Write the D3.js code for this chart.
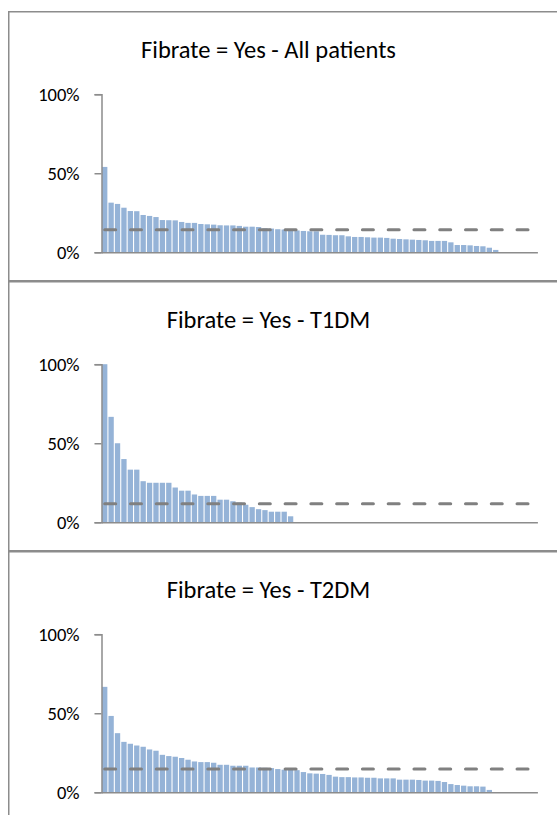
<!DOCTYPE html>
<html>
<head>
<meta charset="utf-8">
<script src="https://cdn.jsdelivr.net/npm/d3@7"></script>
<style>
  body { margin: 0; background: #fff; }
  text { font-family: Carlito, Calibri, Lato, sans-serif; fill: #000; }
</style>
</head>
<body>
<div id="chart"></div>
<script>
// 68 category slots on the x axis, only the first ones hold a bar
const slots = d3.range(1, 69);

const titles = ["Fibrate = Yes - All patients", "Fibrate = Yes - T1DM", "Fibrate = Yes - T2DM"];

const allPatients = [
  0.54, 0.314, 0.306, 0.282, 0.261, 0.26, 0.236, 0.23, 0.223, 0.204,
  0.203, 0.202, 0.192, 0.186, 0.186, 0.179, 0.177, 0.175, 0.171, 0.17,
  0.17, 0.167, 0.162, 0.162, 0.16, 0.152, 0.15, 0.146, 0.144, 0.14,
  0.138, 0.135, 0.133, 0.133, 0.111, 0.11, 0.108, 0.108, 0.101, 0.097,
  0.097, 0.095, 0.093, 0.093, 0.091, 0.086, 0.084, 0.082, 0.08, 0.078,
  0.076, 0.072, 0.072, 0.072, 0.063, 0.046, 0.046, 0.044, 0.04, 0.038,
  0.029, 0.015
];
const t1dm = [
  1.0, 0.667, 0.5, 0.4, 0.333, 0.333, 0.26, 0.25, 0.25, 0.25,
  0.25, 0.22, 0.2, 0.2, 0.176, 0.167, 0.167, 0.167, 0.143, 0.143,
  0.133, 0.125, 0.111, 0.096, 0.083, 0.077, 0.067, 0.067, 0.067, 0.038
];
const t2dm = [
  0.667, 0.483, 0.374, 0.319, 0.307, 0.296, 0.288, 0.271, 0.263, 0.237,
  0.229, 0.225, 0.217, 0.206, 0.195, 0.191, 0.191, 0.187, 0.174, 0.174,
  0.168, 0.168, 0.168, 0.157, 0.157, 0.155, 0.153, 0.147, 0.143, 0.143,
  0.14, 0.128, 0.12, 0.118, 0.116, 0.11, 0.099, 0.096, 0.096, 0.094,
  0.094, 0.092, 0.092, 0.088, 0.088, 0.088, 0.08, 0.08, 0.08, 0.078,
  0.074, 0.074, 0.072, 0.065, 0.052, 0.046, 0.042, 0.038, 0.038, 0.036,
  0.015
];
// overall rate drawn as the dashed line
const overall = [0.143, 0.117, 0.147];

const yTicks = [0, 0.5, 1];

const seriesList = [allPatients, t1dm, t2dm];

const W = 557, H = 815;
const panelTops = [11, 281, 551];
const panelH = 269;

const svg = d3.select("#chart").append("svg")
    .attr("width", W)
    .attr("height", H);

const x = d3.scaleBand()
    .domain(slots)
    .range([101.5, 537.4])
    .paddingInner(0.17)
    .paddingOuter(0.085);

seriesList.forEach(function(values, i) {
  const top = panelTops[i];

  // panel frame
  svg.append("rect")
      .attr("x", 8.75)
      .attr("y", top + 0.75)
      .attr("width", 600)
      .attr("height", panelH)
      .attr("fill", "#fff")
      .attr("stroke", "#8c8c8c")
      .attr("stroke-width", 1.5);

  const g = svg.append("g").attr("transform", `translate(0, ${top})`);

  const y = d3.scaleLinear()
      .domain([0, 1])
      .range([241.3, 83.2]);

  // title
  g.append("text")
      .attr("x", 268.5)
      .attr("y", 46.5)
      .attr("text-anchor", "middle")
      .style("font-size", "24.5px")
      .text(titles[i]);

  // bars
  g.append("g")
    .selectAll("rect")
    .data(values)
    .join("rect")
      .attr("x", (d, j) => x(slots[j]))
      .attr("y", d => y(d))
      .attr("width", x.bandwidth())
      .attr("height", d => y(0) - y(d))
      .attr("fill", "#95b3d7");

  // y axis
  const yAxis = g.append("g")
      .attr("transform", `translate(${x.range()[0]}, 0)`)
      .call(d3.axisLeft(y).tickValues(yTicks).tickFormat(d3.format(".0%")).tickSize(7).tickPadding(15));
  yAxis.select(".domain").attr("stroke", "#8c8c8c").attr("stroke-width", 1.5);
  yAxis.selectAll(".tick line").attr("stroke", "#8c8c8c").attr("stroke-width", 1.5);
  yAxis.selectAll(".tick text")
      .style("font-size", "18.5px")
      .style("font-family", "Carlito, Calibri, Lato, sans-serif")
      .attr("fill", "#000");

  // x axis line, no ticks
  const xAxis = g.append("g")
      .attr("transform", `translate(0, ${y(0)})`)
      .call(d3.axisBottom(x).tickSize(0).tickFormat(""));
  xAxis.select(".domain").attr("stroke", "#8c8c8c").attr("stroke-width", 1.5);

  // overall rate, dashed line across all slots
  const line = d3.line()
      .x(d => x(d) + x.bandwidth() / 2)
      .y(() => y(overall[i]));
  g.append("path")
      .datum([slots[0], slots[slots.length - 1]])
      .attr("d", line)
      .attr("fill", "none")
      .attr("stroke", "#808080")
      .attr("stroke-width", 3)
      .attr("stroke-linecap", "round")
      .attr("stroke-dasharray", "11,14.77");
});
</script>
</body>
</html>
